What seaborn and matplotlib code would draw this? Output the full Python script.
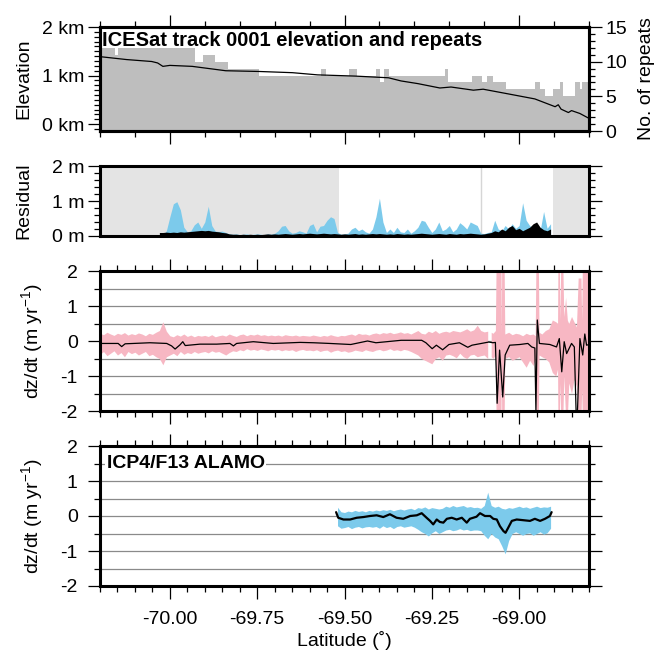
import numpy as np
import matplotlib
matplotlib.use("Agg")
import matplotlib.pyplot as plt
from matplotlib.ticker import MultipleLocator, FixedLocator, FuncFormatter
import seaborn as sns

# ---------------- data ----------------
# number of repeats along the track (step edges in latitude, count per step)
rep_edges = [-70.200, -70.157, -70.148, -69.928, -69.906, -69.870, -69.834, -69.745,
             -69.566, -69.553, -69.488, -69.464, -69.410, -69.398, -69.388, -69.374,
             -69.212, -69.204, -69.135, -69.106, -69.092, -69.075, -69.039, -68.955,
             -68.940, -68.926, -68.903, -68.883, -68.874, -68.840, -68.826, -68.820,
             -68.800]
rep_counts = [12, 11, 12, 10, 11, 10, 9, 8, 9, 8, 9, 8, 9, 7, 9, 8,
              9, 7, 8, 7, 8, 7, 6, 7, 6, 5, 6, 7, 5, 7, 6, 7]

# surface elevation (km)
elev_lat = [-70.200, -70.124, -70.052, -70.035, -70.020, -70.000, -69.936, -69.840,
            -69.745, -69.649, -69.577, -69.470, -69.374, -69.338, -69.290, -69.227,
            -69.195, -69.131, -69.103, -69.036, -68.955, -68.897, -68.888, -68.880,
            -68.859, -68.850, -68.826, -68.800]
elev_km = [1.39, 1.33, 1.29, 1.26, 1.19, 1.21, 1.19, 1.10,
           1.085, 1.06, 1.015, 0.99, 0.955, 0.89, 0.835, 0.745,
           0.765, 0.70, 0.72, 0.63, 0.52, 0.36, 0.40, 0.31,
           0.24, 0.28, 0.22, 0.12]

# residuals (m), sampled every 0.01 deg from -70.03 to -68.91
res_blue = [0.02, 0.03, 0.15, 0.55,
            0.92, 0.98, 0.75, 0.25, 0.12, 0.15, 0.32, 0.40, 0.22, 0.40,
            0.85, 0.30, 0.14, 0.13, 0.14, 0.10, 0.06, 0.05, 0.06, 0.04,
            0.05, 0.06, 0.04, 0.05, 0.06, 0.05, 0.04, 0.06, 0.05, 0.08,
            0.15, 0.28, 0.30, 0.15, 0.08, 0.10, 0.15, 0.12, 0.08, 0.30,
            0.35, 0.12, 0.28, 0.30, 0.45, 0.55, 0.50, 0.10, 0.05, 0.06,
            0.08, 0.20, 0.25, 0.15, 0.20, 0.12, 0.08, 0.20, 0.55, 1.08,
            0.40, 0.10, 0.20, 0.10, 0.25, 0.12, 0.10, 0.20, 0.08, 0.15,
            0.25, 0.45, 0.42, 0.25, 0.10, 0.20, 0.40, 0.15, 0.20, 0.30,
            0.12, 0.20, 0.38, 0.30, 0.20, 0.40, 0.35, 0.30, 0.08, 0.07,
            0.10, 0.12, 0.45, 0.20, 0.15, 0.30, 0.20, 0.35, 0.22, 0.30,
            0.95, 0.45, 0.30, 0.20, 0.25, 0.15, 0.70, 0.22, 0.35]
res_black = [0.10, 0.10, 0.11, 0.10,
             0.11, 0.10, 0.12, 0.11, 0.12, 0.13, 0.14, 0.15, 0.16, 0.15,
             0.16, 0.14, 0.13, 0.12, 0.10, 0.09, 0.06, 0.05, 0.05, 0.04,
             0.05, 0.04, 0.05, 0.04, 0.05, 0.04, 0.05, 0.06, 0.05, 0.06,
             0.05, 0.06, 0.07, 0.06, 0.05, 0.06, 0.07, 0.06, 0.07, 0.08,
             0.07, 0.06, 0.07, 0.08, 0.07, 0.06, 0.07, 0.06, 0.05, 0.06,
             0.05, 0.06, 0.07, 0.05, 0.06, 0.05, 0.06, 0.07, 0.06, 0.07,
             0.06, 0.05, 0.06, 0.05, 0.07, 0.06, 0.05, 0.06, 0.05, 0.06,
             0.07, 0.08, 0.07, 0.06, 0.05, 0.06, 0.07, 0.06, 0.05, 0.07,
             0.06, 0.05, 0.07, 0.06, 0.07, 0.08, 0.07, 0.06, 0.05, 0.06,
             0.08, 0.10, 0.15, 0.12, 0.20, 0.15, 0.25, 0.30, 0.18, 0.22,
             0.15, 0.20, 0.25, 0.35, 0.40, 0.25, 0.18, 0.15, 0.20]
res_lat = np.linspace(-70.03, -68.91, len(res_blue))

# ALAMO coverage (outside it the residual panel is shaded)
alamo_start = -69.515
alamo_end = -68.904
alamo_gap = -69.110

# ICESat dz/dt (m/yr)
dzdt_lat = [-70.200, -70.148, -70.138, -70.128, -70.057, -70.009, -69.995, -69.985,
            -69.971, -69.963, -69.956, -69.914, -69.866, -69.828, -69.818, -69.809,
            -69.761, -69.704, -69.627, -69.589, -69.542, -69.482, -69.434, -69.410,
            -69.338, -69.279, -69.267, -69.249, -69.237, -69.219, -69.201, -69.171,
            -69.147, -69.135, -69.087, -69.075, -69.068, -69.063, -69.056, -69.047,
            -69.040, -69.027, -68.998, -68.975, -68.964, -68.955, -68.952, -68.948,
            -68.942, -68.912, -68.893, -68.885, -68.878, -68.871, -68.864, -68.850,
            -68.842, -68.837, -68.833, -68.826, -68.818, -68.812, -68.807, -68.800]
dzdt = [-0.07, -0.07, -0.16, -0.08, -0.05, -0.07, -0.14, -0.23,
        -0.11, -0.02, -0.13, -0.09, -0.09, -0.07, -0.14, -0.07,
        -0.02, -0.07, -0.04, -0.05, -0.07, -0.10, 0.00, -0.05,
        0.02, 0.02, -0.05, -0.22, -0.12, -0.25, -0.10, -0.05,
        -0.18, -0.12, -0.03, -0.05, -0.04, -1.78, -0.26, -1.60,
        -0.40, -0.12, -0.10, -0.07, -0.17, -0.20, -2.00, 0.60,
        -0.07, -0.10, -0.17, 0.07, -0.88, -0.02, -0.36, -0.07,
        -0.17, -2.00, -2.00, 0.07, -0.40, 0.20, -0.12, -0.10]

# ICESat dz/dt error envelope: every 0.01 deg from -70.20 to -69.09 ...
band_hi = [0.22, 0.18, 0.25, 0.20, 0.16, 0.22, 0.19, 0.24, 0.17, 0.21,
           0.18, 0.23, 0.20, 0.15, 0.22, 0.19, 0.25, 0.30, 0.55, 0.28,
           0.15, 0.12, 0.18, 0.14, 0.20, 0.13, 0.17, 0.12, 0.16, 0.14,
           0.16, 0.13, 0.18, 0.12, 0.15, 0.17, 0.14, 0.20, 0.16, 0.13,
           0.18, 0.20, 0.15, 0.19, 0.17, 0.20, 0.16, 0.18, 0.15, 0.17,
           0.15, 0.17, 0.14, 0.18, 0.16, 0.15, 0.17, 0.14, 0.16, 0.15,
           0.14, 0.17, 0.15, 0.13, 0.16, 0.14, 0.18, 0.15, 0.13, 0.16,
           0.15, 0.18, 0.20, 0.16, 0.22, 0.19, 0.20, 0.17, 0.21, 0.23,
           0.20, 0.24, 0.22, 0.25, 0.21, 0.23, 0.26, 0.22, 0.24, 0.20,
           0.25, 0.30, 0.22, 0.20, 0.28, 0.24, 0.30, 0.22, 0.26, 0.28,
           0.25, 0.30, 0.28, 0.26, 0.30, 0.35, 0.28, 0.32, 0.45, 0.30, 0.26, 0.28]
band_lo = [-0.38, -0.30, -0.42, -0.35, -0.28, -0.40, -0.33, -0.45, -0.30, -0.36,
           -0.32, -0.40, -0.35, -0.30, -0.42, -0.38, -0.45, -0.50, -0.68, -0.45,
           -0.40, -0.35, -0.42, -0.30, -0.38, -0.33, -0.36, -0.30, -0.35, -0.32,
           -0.30, -0.34, -0.28, -0.32, -0.30, -0.35, -0.40, -0.33, -0.28, -0.30,
           -0.25, -0.28, -0.22, -0.26, -0.24, -0.27, -0.23, -0.25, -0.28, -0.24,
           -0.26, -0.24, -0.28, -0.25, -0.27, -0.25, -0.30, -0.26, -0.24, -0.27,
           -0.26, -0.28, -0.25, -0.30, -0.27, -0.26, -0.32, -0.28, -0.26, -0.30,
           -0.28, -0.32, -0.30, -0.26, -0.28, -0.30, -0.25, -0.28, -0.30, -0.26,
           -0.24, -0.28, -0.26, -0.22, -0.27, -0.25, -0.28, -0.24, -0.26, -0.30,
           -0.35, -0.40, -0.50, -0.55, -0.60, -0.65, -0.50, -0.45, -0.55, -0.40,
           -0.38, -0.42, -0.48, -0.35, -0.45, -0.50, -0.40, -0.38, -0.45, -0.42, -0.40, -0.50]
# ... then the noisy northern end, point by point
end_lat = [-69.080, -69.075, -69.068, -69.066, -69.052, -69.051, -69.050, -69.043,
           -69.041, -69.030, -69.020, -69.010, -69.000, -68.990, -68.980, -68.970,
           -68.960, -68.954, -68.952, -68.945, -68.943, -68.935, -68.925, -68.915,
           -68.905, -68.895, -68.890, -68.889, -68.885, -68.883, -68.881, -68.875,
           -68.872, -68.867, -68.862, -68.858, -68.850, -68.843, -68.836, -68.831,
           -68.823, -68.821, -68.819, -68.800]
end_hi = [0.25, 0.22, 0.30, 2.2, 2.2, 0.20, 2.2, 2.2,
          0.20, 0.25, 0.18, 0.22, 0.20, 0.15, 0.22, 0.18,
          0.20, 0.15, 2.2, 2.2, 0.25, 0.20, 0.30, 0.35,
          0.60, 0.55, 0.50, 2.2, 2.2, 0.60, 2.2, 2.2,
          0.70, 1.25, 0.60, 0.50, 0.70, 0.55, 0.40, 1.80,
          1.80, 0.60, 2.2, 2.2]
end_lo = [-0.45, -0.50, -0.40, -2.2, -2.2, -0.40, -2.2, -2.2,
          -0.50, -0.45, -0.55, -0.50, -0.45, -0.60, -0.75, -0.55,
          -0.70, -0.50, -2.2, -2.2, -0.40, -0.45, -0.50, -0.60,
          -0.90, -1.00, -0.80, -2.2, -2.2, -1.20, -2.2, -2.2,
          -1.00, -2.2, -2.2, -1.20, -1.50, -1.10, -1.30, -2.2,
          -2.2, -1.40, -2.2, -2.2]

# ICP4/F13 ALAMO dz/dt (m/yr)
alamo_lat = [-69.524, -69.518, -69.503, -69.484, -69.465, -69.446, -69.427, -69.408,
             -69.389, -69.370, -69.351, -69.332, -69.312, -69.293, -69.279, -69.265,
             -69.255, -69.246, -69.236, -69.227, -69.217, -69.207, -69.193, -69.179,
             -69.164, -69.150, -69.141, -69.122, -69.112, -69.098, -69.083, -69.074,
             -69.064, -69.055, -69.045, -69.039, -69.031, -69.021, -69.007, -68.988,
             -68.969, -68.955, -68.940, -68.926, -68.912, -68.907]
alamo_dzdt = [0.11, -0.05, -0.10, -0.10, -0.05, -0.03, 0.00, 0.02,
              -0.03, 0.05, -0.05, -0.08, 0.00, 0.02, 0.08, -0.05,
              -0.14, -0.24, -0.10, -0.17, -0.19, -0.08, -0.05, -0.10,
              -0.05, -0.19, -0.08, -0.02, 0.08, 0.00, 0.00, -0.08,
              -0.10, -0.29, -0.43, -0.48, -0.33, -0.14, -0.10, -0.12,
              -0.14, -0.08, -0.14, -0.08, 0.00, 0.11]
# ALAMO error envelope, every 0.01 deg from -69.52 to -68.91
alamo_hi = [0.25, 0.12, 0.10, 0.14, 0.12, 0.16, 0.13, 0.15, 0.12, 0.16,
            0.14, 0.17, 0.15, 0.18, 0.16, 0.19, 0.15, 0.18, 0.20, 0.17,
            0.20, 0.22, 0.18, 0.24, 0.22, 0.26, 0.20, 0.24, 0.22, 0.20,
            0.22, 0.28, 0.25, 0.30, 0.26, 0.28, 0.30, 0.25, 0.27, 0.24,
            0.25, 0.22, 0.30, 0.68, 0.30, 0.25, 0.28, 0.22, 0.20, 0.24,
            0.22, 0.25, 0.28, 0.24, 0.26, 0.22, 0.25, 0.28, 0.24, 0.26,
            0.25, 0.28]
alamo_lo = [-0.28, -0.35, -0.33, -0.30, -0.36, -0.32, -0.30, -0.34, -0.31, -0.30,
            -0.32, -0.30, -0.35, -0.28, -0.33, -0.30, -0.36, -0.30, -0.28, -0.32,
            -0.30, -0.28, -0.32, -0.38, -0.45, -0.50, -0.57, -0.48, -0.42, -0.50,
            -0.45, -0.40, -0.38, -0.42, -0.40, -0.36, -0.40, -0.38, -0.42, -0.40,
            -0.40, -0.42, -0.55, -0.65, -0.50, -0.60, -0.65, -0.85, -1.08, -0.70,
            -0.50, -0.45, -0.50, -0.55, -0.50, -0.48, -0.55, -0.50, -0.45, -0.52,
            -0.48, -0.35]
alamo_band_lat = np.linspace(-69.52, -68.91, len(alamo_hi))

# ---------------- style ----------------
sns.set_theme(style="ticks")
plt.rcParams["font.family"] = ["Liberation Sans", "DejaVu Sans"]
plt.rcParams["mathtext.default"] = "regular"
plt.rcParams["axes.unicode_minus"] = False
plt.rcParams["axes.edgecolor"] = "black"
plt.rcParams["axes.labelcolor"] = "black"
plt.rcParams["text.color"] = "black"
plt.rcParams["xtick.color"] = "black"
plt.rcParams["ytick.color"] = "black"
plt.rcParams["xtick.labelcolor"] = "black"
plt.rcParams["ytick.labelcolor"] = "black"

FS = 14
PINK = "#f7b7c3"
BLUE = "#7ccaeb"
XLIM = (-70.2, -68.8)

fig = plt.figure(figsize=(6.55, 6.53), dpi=100)
L, W = 100 / 655, 489 / 655
ax1 = fig.add_axes([L, 1 - 131 / 653, W, 104 / 653])
ax2 = fig.add_axes([L, 1 - 236 / 653, W, 70 / 653])
ax3 = fig.add_axes([L, 1 - 411 / 653, W, 140 / 653])
ax4 = fig.add_axes([L, 1 - 586 / 653, W, 140 / 653])
ax1r = ax1.twinx()


def frame(ax):
    for s in ax.spines.values():
        s.set_linewidth(2.2)
        s.set_color("black")
    ax.tick_params(which="major", direction="out", length=9, width=0.9,
                   labelsize=FS, colors="black")
    ax.tick_params(which="minor", direction="out", length=4.5, width=0.9, colors="black")


# ---- panel 1: elevation and repeats ----
sns.histplot(x=[(a + b) / 2 for a, b in zip(rep_edges[:-1], rep_edges[1:])],
             weights=rep_counts, bins=rep_edges, element="step", fill=True,
             color="#bebebe", alpha=1, linewidth=0, ax=ax1r)
sns.lineplot(x=elev_lat, y=elev_km, ax=ax1, color="black", lw=0.9,
             estimator=None, sort=False)
ax1.set_zorder(ax1r.get_zorder() + 1)
ax1.patch.set_visible(False)

ax1.set_xlim(*XLIM)
ax1.set_ylim(-0.14, 2.0)
ax1.yaxis.set_major_locator(FixedLocator([0, 1, 2]))
ax1.yaxis.set_major_formatter(FuncFormatter(lambda v, p: f"{v:.0f} km"))
ax1.yaxis.set_minor_locator(MultipleLocator(0.1))
ax1.xaxis.set_major_locator(MultipleLocator(0.5))
ax1.xaxis.set_minor_locator(MultipleLocator(0.1))
frame(ax1)
ax1.tick_params(axis="x", which="both", top=True, bottom=True, labelbottom=False)
ax1.tick_params(axis="y", which="both", left=True, right=False, pad=2)
ax1.set_xlabel("")
ax1.set_ylabel("Elevation", fontsize=FS)
ax1.yaxis.set_label_coords(-0.138, 0.5)

ax1r.set_ylim(0, 15)
ax1r.yaxis.set_major_locator(FixedLocator([0, 5, 10, 15]))
ax1r.yaxis.set_minor_locator(MultipleLocator(1))
frame(ax1r)
ax1r.tick_params(axis="y", which="both", right=True, left=False, pad=3)
ax1r.set_ylabel("No. of repeats", fontsize=FS)
ax1r.yaxis.set_label_coords(1.10, 0.5)

ax1.text(0.005, 0.965, "ICESat track 0001 elevation and repeats", transform=ax1.transAxes,
         fontsize=14.5, fontweight="bold", ha="left", va="top", color="black")

# ---- panel 2: residuals ----
ax2.axvspan(XLIM[0], alamo_start, color="#e4e4e4", lw=0, zorder=0)
ax2.axvspan(alamo_end, XLIM[1], color="#e4e4e4", lw=0, zorder=0)
ax2.axvline(alamo_gap, color="#d6d6d6", lw=1, zorder=0)
ax2.fill_between(res_lat, 0, res_blue, color=BLUE, lw=0)
ax2.fill_between(res_lat, 0, res_black, color="black", lw=0)
ax2.set_xlim(*XLIM)
ax2.set_ylim(0, 2)
ax2.yaxis.set_major_locator(FixedLocator([0, 1, 2]))
ax2.yaxis.set_major_formatter(FuncFormatter(lambda v, p: f"{v:.0f} m"))
ax2.yaxis.set_minor_locator(MultipleLocator(0.2))
frame(ax2)
ax2.tick_params(axis="x", which="both", top=False, bottom=False, labelbottom=False)
ax2.tick_params(axis="y", which="both", left=True, right=True, labelright=False, pad=2)
ax2.set_ylabel("Residual", fontsize=FS)
ax2.yaxis.set_label_coords(-0.138, 0.5)


# ---- panels 3 and 4: dz/dt ----
def dzdt_axes(ax):
    ax.set_xlim(*XLIM)
    ax.set_ylim(-2, 2)
    ax.yaxis.set_major_locator(MultipleLocator(1))
    ax.yaxis.set_major_formatter(FuncFormatter(lambda v, p: f"{v:.0f}"))
    ax.yaxis.set_minor_locator(MultipleLocator(0.5))
    ax.xaxis.set_major_locator(MultipleLocator(0.25))
    ax.xaxis.set_minor_locator(MultipleLocator(0.05))
    ax.set_axisbelow(True)
    ax.yaxis.grid(True, which="both", color="#8a8a8a", lw=0.9)
    ax.xaxis.grid(False)
    frame(ax)
    ax.tick_params(axis="x", which="both", top=True, bottom=True)
    ax.tick_params(axis="y", which="both", left=True, right=True, labelright=False, pad=7)
    ax.set_ylabel("dz/dt (m yr$^{-1}$)", fontsize=FS)
    ax.yaxis.set_label_coords(-0.112, 0.5)


ax3.fill_between(np.linspace(-70.20, -69.09, len(band_hi)), band_lo, band_hi,
                 color=PINK, lw=0)
ax3.fill_between(end_lat, end_lo, end_hi, color=PINK, lw=0)
sns.lineplot(x=dzdt_lat, y=dzdt, ax=ax3, color="black", lw=0.9, estimator=None, sort=False)
dzdt_axes(ax3)
ax3.tick_params(axis="x", labelbottom=False)
ax3.set_xlabel("")

ax4.fill_between(alamo_band_lat, alamo_lo, alamo_hi, color=BLUE, lw=0)
sns.lineplot(x=alamo_lat, y=alamo_dzdt, ax=ax4, color="black", lw=1.6,
             estimator=None, sort=False)
dzdt_axes(ax4)
ax4.xaxis.set_major_formatter(FuncFormatter(lambda v, p: f"{v:.2f}"))
ax4.tick_params(axis="x", which="major", pad=9)
ax4.set_xlabel("Latitude (\u02da)", fontsize=FS, labelpad=2)
ax4.text(0.014, 0.875, "ICP4/F13 ALAMO", transform=ax4.transAxes, fontsize=14,
         fontweight="bold", ha="left", va="center", color="black",
         bbox=dict(facecolor="white", edgecolor="none", pad=1.0))

fig.savefig("out.png", dpi=100)
